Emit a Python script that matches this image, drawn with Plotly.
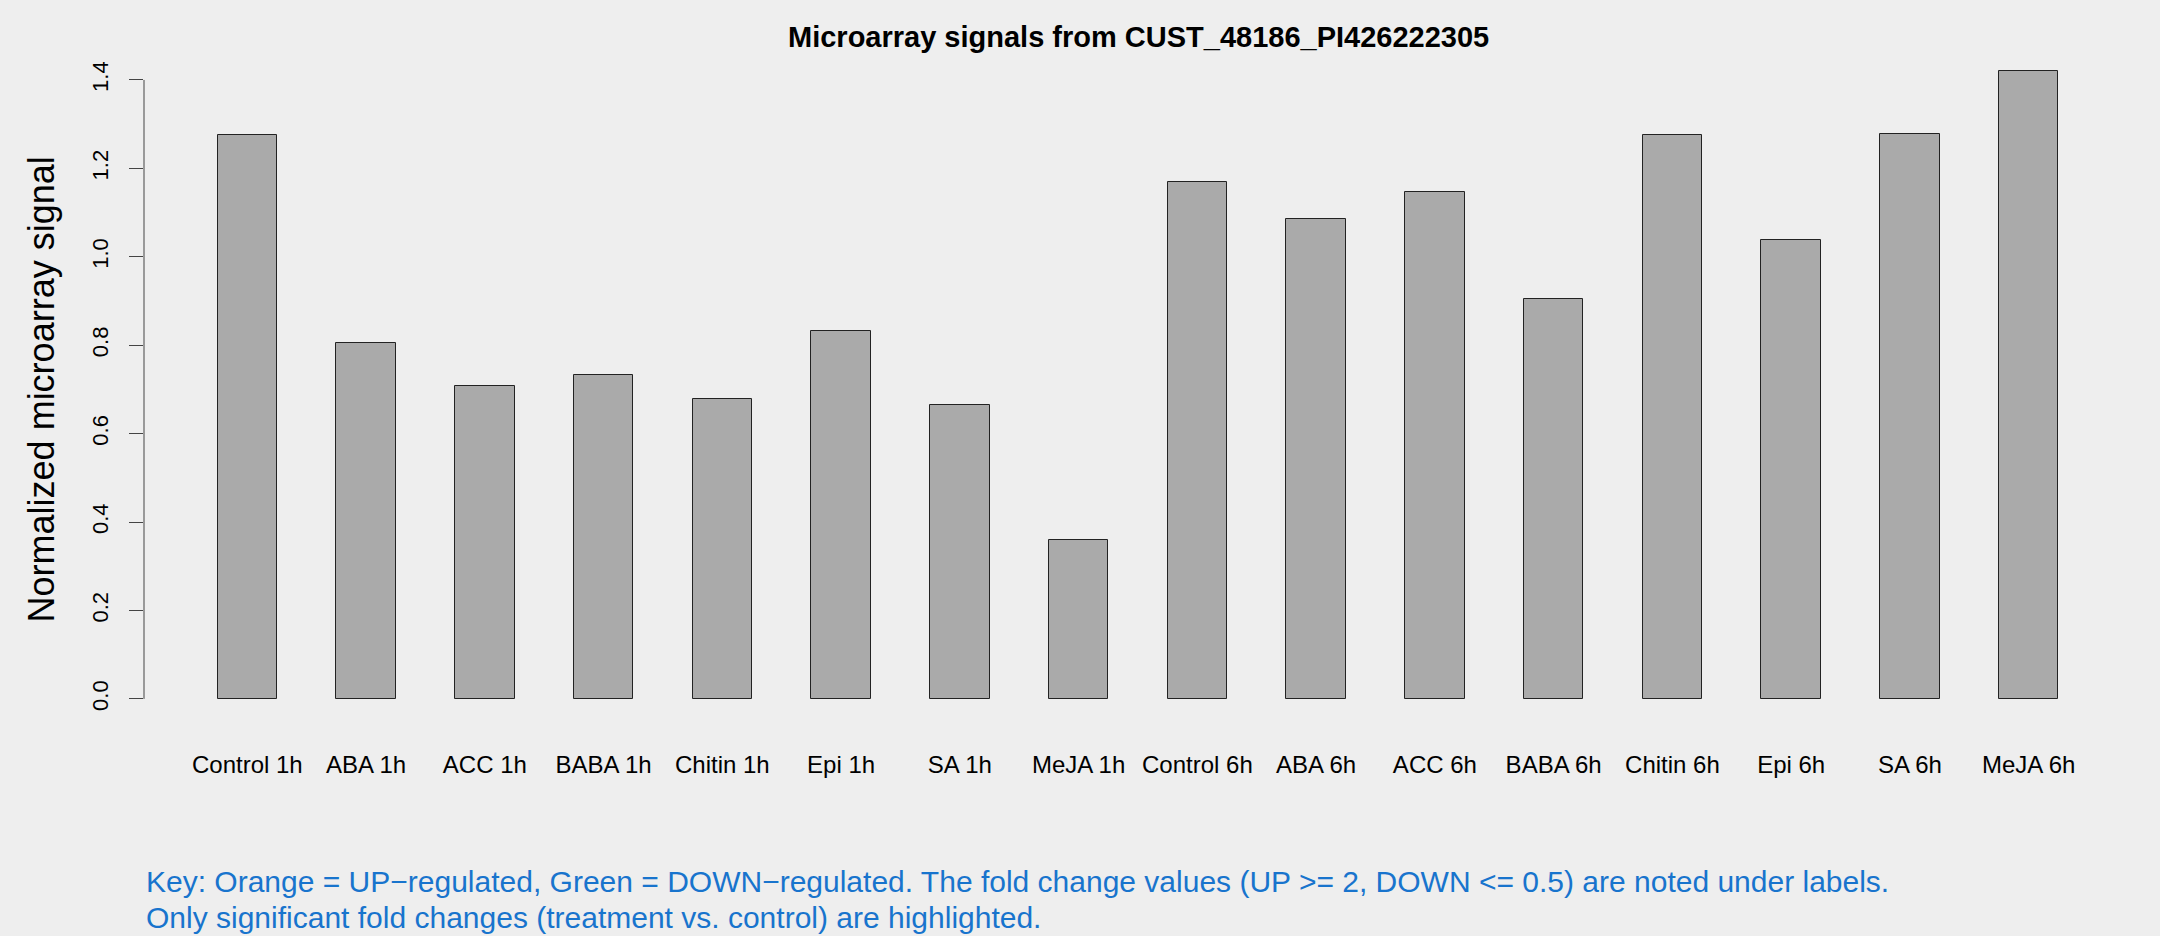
import plotly.graph_objects as go

categories = ["Control 1h", "ABA 1h", "ACC 1h", "BABA 1h", "Chitin 1h", "Epi 1h", "SA 1h", "MeJA 1h",
              "Control 6h", "ABA 6h", "ACC 6h", "BABA 6h", "Chitin 6h", "Epi 6h", "SA 6h", "MeJA 6h"]
signals = [1.276, 0.805, 0.7075, 0.7315, 0.679, 0.833, 0.665, 0.360,
           1.170, 1.085, 1.1455, 0.905, 1.275, 1.0377, 1.2775, 1.420]
y_ticks = [0.0, 0.2, 0.4, 0.6, 0.8, 1.0, 1.2, 1.4]
y_tick_labels = ["0.0", "0.2", "0.4", "0.6", "0.8", "1.0", "1.2", "1.4"]

title_text = "Microarray signals from CUST_48186_PI426222305"
ylab_text = "Normalized microarray signal"
key_line1 = "Key: Orange = UP\u2212regulated, Green = DOWN\u2212regulated. The fold change values (UP >= 2, DOWN <= 0.5) are noted under labels."
key_line2 = "Only significant fold changes (treatment vs. control) are highlighted."

# R barplot geometry: width 1, space 1
n = len(categories)
x_pos = [2 * i + 1.5 for i in range(n)]
x_lo, x_hi = 1.0, 2.0 * n
pad_x = 0.04 * (x_hi - x_lo)
y_top = max(signals)
pad_y = 0.04 * y_top

W, H = 2160, 936
ml, mr, mt, mb = 144, 28, 46, 212
ph = H - mt - mb
pw = W - ml - mr

def py(px):
    return (H - mb - px) / ph

def pxx(px):
    return (px - ml) / pw

FONT = "Liberation Sans, Arial, Helvetica, sans-serif"
BG = "#EEEEEE"

fig = go.Figure()
fig.add_trace(go.Bar(
    x=x_pos, y=signals, width=1.0,
    marker=dict(color="#AAAAAA", line=dict(color="#222222", width=1)),
    hoverinfo="skip", showlegend=False,
))

# y-axis line only over tick range (R style)
fig.add_shape(type="line", xref="paper", yref="y", x0=0, x1=0, y0=y_ticks[0], y1=y_ticks[-1],
              line=dict(color="#444444", width=1))

fig.update_layout(
    width=W, height=H,
    margin=dict(l=ml, r=mr, t=mt, b=mb, pad=0),
    paper_bgcolor=BG, plot_bgcolor=BG,
    font=dict(family=FONT, color="#000000"),
    bargap=0,
    xaxis=dict(
        range=[x_lo - pad_x, x_hi + pad_x], showgrid=False, zeroline=False, showline=False,
        tickmode="array", tickvals=x_pos, ticktext=categories, ticks="",
        tickfont=dict(size=24, family=FONT, color="#000000"),
        ticklabelstandoff=24,
    ),
    yaxis=dict(
        range=[-pad_y, y_top + pad_y], showgrid=False, zeroline=False, showline=False,
        tickmode="array", tickvals=y_ticks, ticktext=y_tick_labels,
        ticks="outside", ticklen=14, tickwidth=1, tickcolor="#444444",
        tickangle=-90, tickfont=dict(size=22, family=FONT, color="#000000"),
        ticklabelstandoff=12,
    ),
)

annotations = [
    dict(text="<b>" + title_text + "</b>", xref="paper", yref="paper", x=0.5, y=py(37),
         xanchor="center", yanchor="middle", showarrow=False,
         font=dict(size=29, family=FONT, color="#000000")),
    dict(text=ylab_text, xref="paper", yref="y", x=pxx(41), y=0.7, textangle=-90,
         xanchor="center", yanchor="middle", showarrow=False,
         font=dict(size=36, family=FONT, color="#000000")),
    dict(text=key_line1, xref="paper", yref="paper", x=pxx(144), y=py(881),
         xanchor="left", yanchor="middle", showarrow=False,
         font=dict(size=30, family=FONT, color="#1874CD")),
    dict(text=key_line2, xref="paper", yref="paper", x=pxx(144), y=py(917),
         xanchor="left", yanchor="middle", showarrow=False,
         font=dict(size=30, family=FONT, color="#1874CD")),
]
fig.update_layout(annotations=annotations)

fig.write_html("out.html", config={"displayModeBar": False},
               post_script="document.body.style.margin='0';document.body.style.padding='0';")
